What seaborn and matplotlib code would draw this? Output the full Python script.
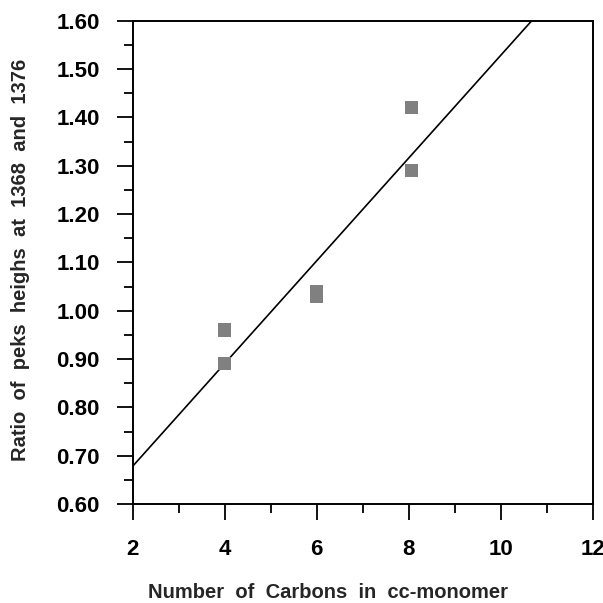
import matplotlib
matplotlib.use("Agg")
import matplotlib.pyplot as plt
import seaborn as sns
import pandas as pd
from matplotlib.ticker import MultipleLocator

carbons = [4.0, 4.0, 6.0, 6.0, 8.05, 8.05]
ratio = [0.96, 0.89, 1.04, 1.03, 1.42, 1.29]
x_ticks = [2, 4, 6, 8, 10, 12]
y_ticks = [0.60, 0.70, 0.80, 0.90, 1.00, 1.10, 1.20, 1.30, 1.40, 1.50, 1.60]

df = pd.DataFrame({"carbons": carbons, "ratio": ratio})

sns.set_style("ticks")
plt.rcParams["font.family"] = ["Liberation Sans", "DejaVu Sans"]
plt.rcParams["font.weight"] = "bold"

fig = plt.figure(figsize=(6.03, 6.03), dpi=100)
ax = fig.add_axes([132.5 / 603, 1 - 504 / 603, (593 - 132.5) / 603, (504 - 20.7) / 603])
ax.set_xlim(2, 12)
ax.set_ylim(0.60, 1.60)

sns.regplot(data=df, x="carbons", y="ratio", ax=ax, ci=None, truncate=False,
            marker="s",
            scatter_kws=dict(s=90, color="#808080", edgecolors="none", alpha=1, zorder=3),
            line_kws=dict(color="black", lw=1.2, zorder=2))
ax.set_xlim(2, 12)
ax.set_ylim(0.60, 1.60)

ax.set_xticks(x_ticks)
ax.set_xticklabels([str(v) for v in x_ticks])
ax.set_yticks(y_ticks)
ax.set_yticklabels([f"{v:.2f}" for v in y_ticks])
ax.xaxis.set_minor_locator(MultipleLocator(1))
ax.yaxis.set_minor_locator(MultipleLocator(0.05))

for s in ax.spines.values():
    s.set_linewidth(1.4)
    s.set_color("black")
    s.set_visible(True)

ax.tick_params(axis="both", which="major", length=11.5, width=1.3, direction="out",
               labelsize=16, color="black", labelcolor="black")
ax.tick_params(axis="both", which="minor", length=6.5, width=1.3, direction="out", color="black")
ax.tick_params(axis="x", which="major", pad=14)
ax.tick_params(axis="y", which="major", pad=12)
for lab in ax.get_xticklabels() + ax.get_yticklabels():
    lab.set_fontweight("bold")

ax.set_xlabel("Number  of  Carbons  in  cc-monomer", fontsize=14.5, fontweight="bold")
ax.xaxis.set_label_coords(0.4245, -0.163)
ax.set_ylabel("Ratio  of  peks  heighs  at  1368  and  1376", fontsize=14.5, fontweight="bold")
ax.yaxis.set_label_coords(-0.222, 0.505)

fig.savefig("out.png", dpi=100, facecolor="white")
